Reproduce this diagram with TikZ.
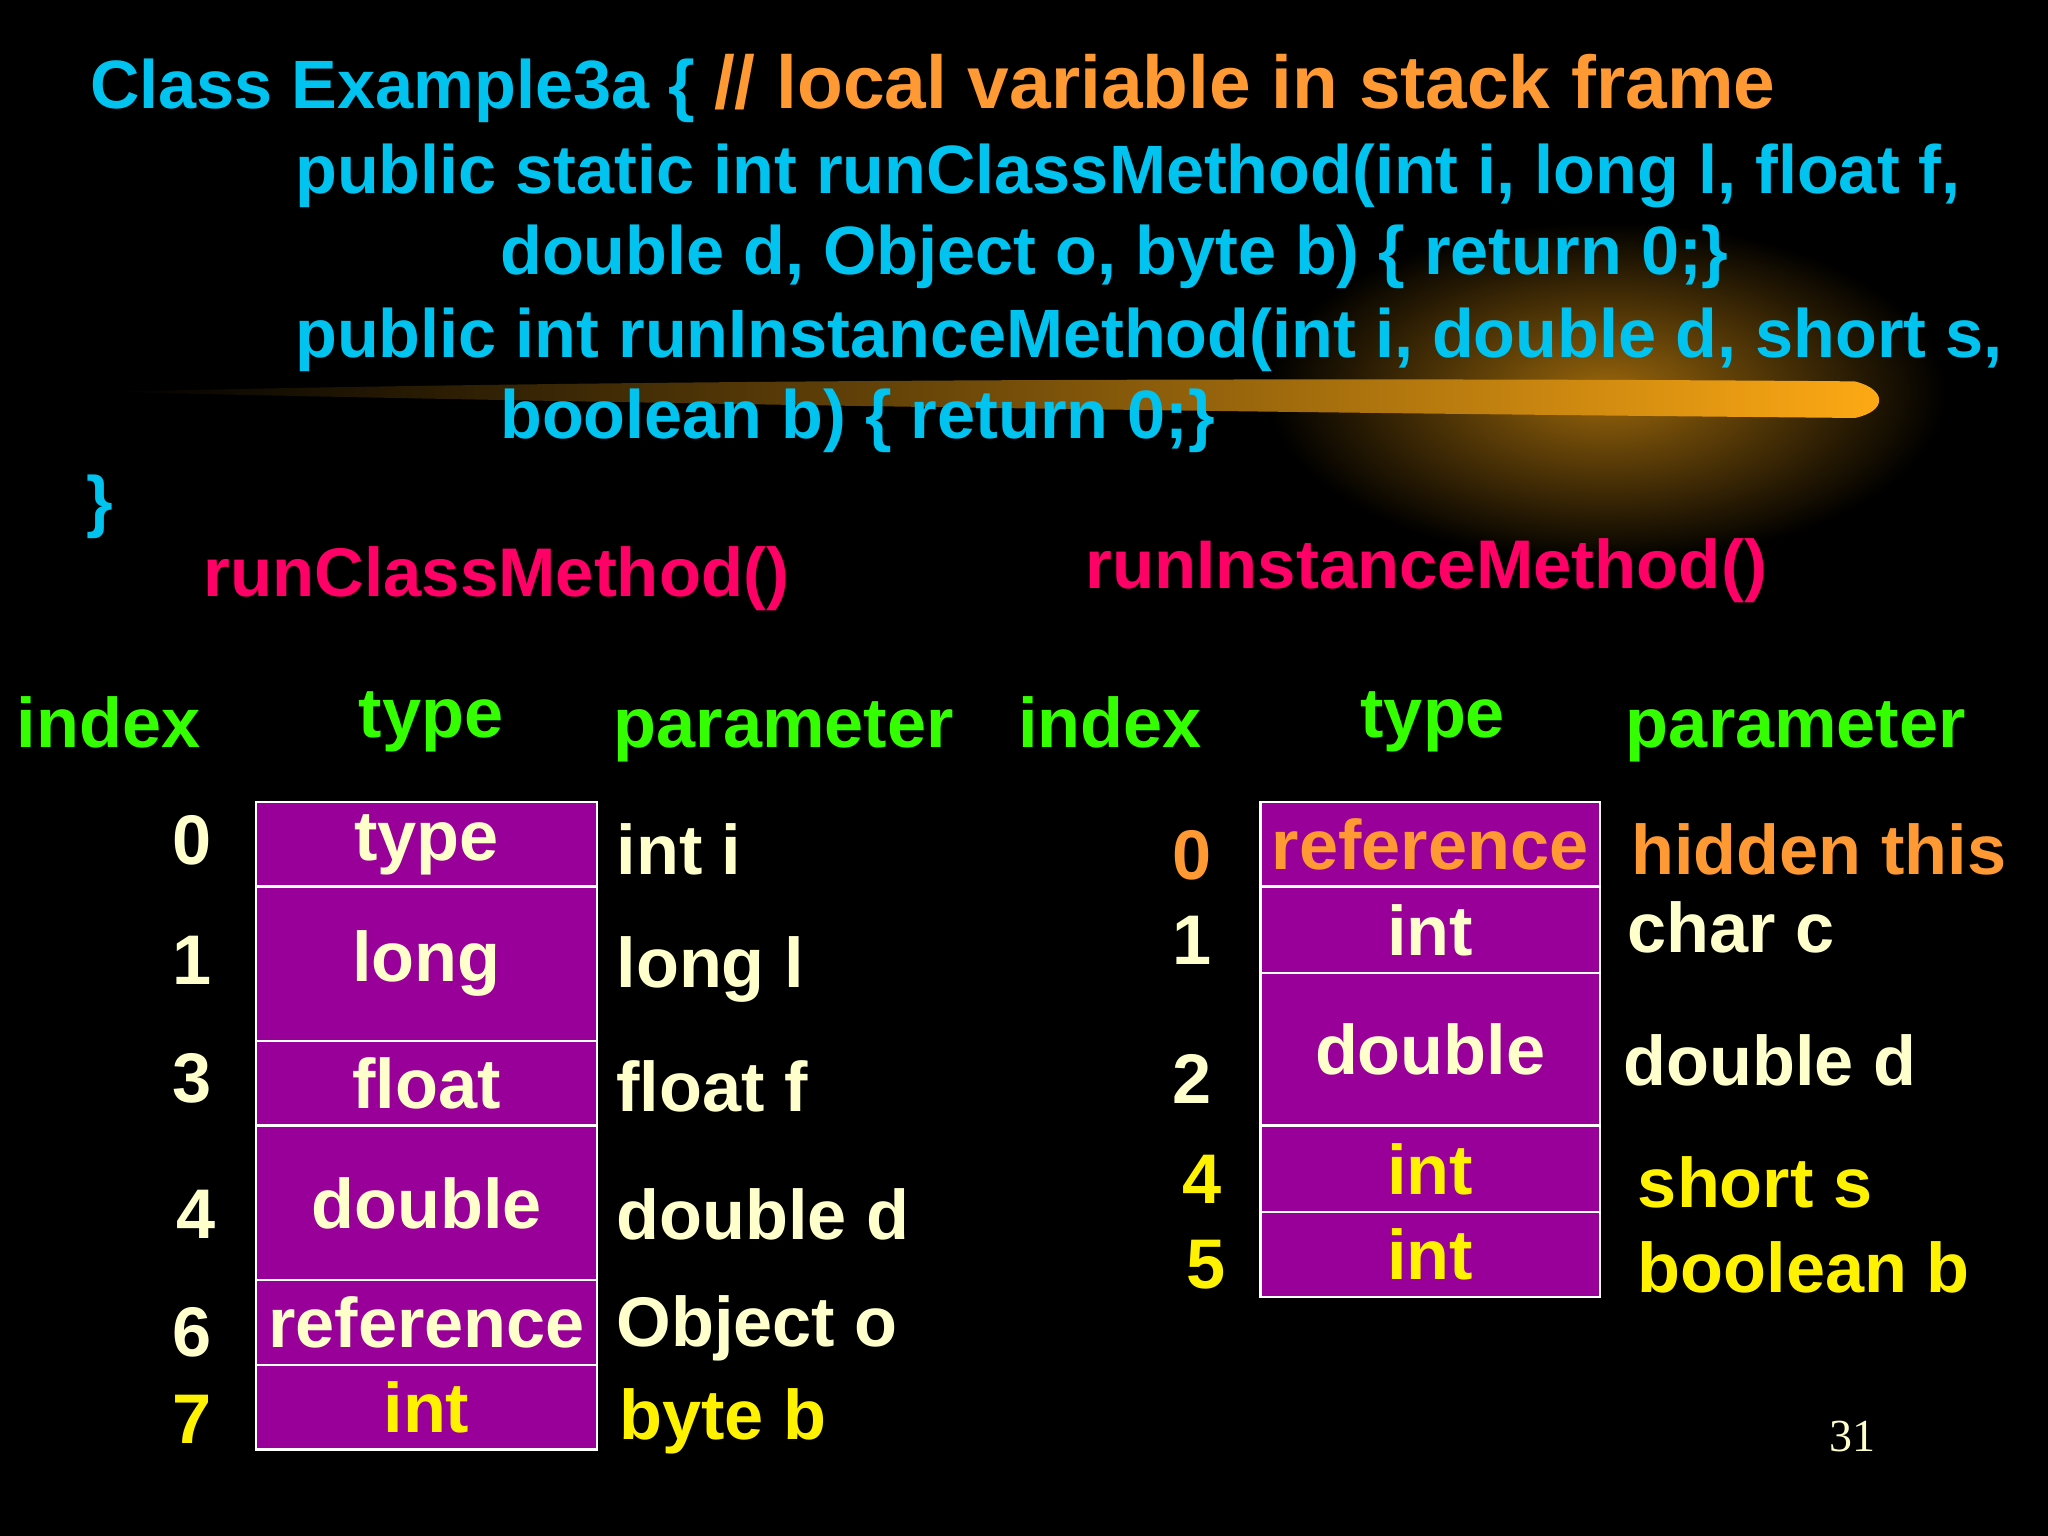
\documentclass[tikz,border=0pt]{standalone}
\usepackage{fontspec}
\setmainfont{Liberation Sans}
\usetikzlibrary{positioning}
\definecolor{codecyan}{RGB}{0,195,240}
\definecolor{cmtorange}{RGB}{255,153,51}
\definecolor{titlered}{RGB}{255,0,102}
\definecolor{hdrgreen}{RGB}{51,255,0}
\definecolor{cream}{RGB}{255,255,204}
\definecolor{slotpurple}{RGB}{153,0,153}
\definecolor{glow}{RGB}{255,170,20}

\begin{document}
\begin{tikzpicture}
[x=0.01cm,y=-0.01cm,
 code/.style={anchor=west,inner sep=0pt,text=codecyan,font=\bfseries\fontsize{14.9}{18}\selectfont},
 title/.style={text=titlered,font=\bfseries\fontsize{15}{18}\selectfont},
 hdr/.style={text=hdrgreen,font=\bfseries\fontsize{15.3}{19}\selectfont},
 idx/.style={text=cream,font=\bfseries\fontsize{15.3}{19}\selectfont},
 param/.style={anchor=west,inner sep=0pt,text=cream,font=\bfseries\fontsize{15.3}{19}\selectfont},
 slot/.style={draw=white,fill=slotpurple,text=cream,font=\bfseries\fontsize{15.3}{19}\selectfont},
 semithick]
\fill[black] (0,0) rectangle (1568,1176);
\useasboundingbox (0,0) rectangle (1568,1176);

% comet glow
\shade[inner color=glow!60!black,outer color=black] (1230,300) ellipse (260 and 130);
\shade[left color=black,right color=glow,middle color=glow!45!black]
  (80,300) .. controls (600,288) and (1200,290) .. (1420,292)
  .. controls (1445,298) and (1445,315) .. (1420,320)
  .. controls (1200,318) and (600,312) .. (80,300);

% code
\node[code] (c1) at (68,68) {Class Example3a \{ \textcolor{cmtorange}{\fontsize{16.3}{20}\selectfont // local variable in stack frame}};
\node[code] (c2) at (225,135) {public static int runClassMethod(int i, long l, float f,};
\node[code] (c3) at (382,197) {double d, Object o, byte b) \{ return 0;\}};
\node[code] (c4) at (225,260) {public int runInstanceMethod(int i, double d, short s,};
\node[code] (c5) at (382,322) {boolean b) \{ return 0;\}};
\node[code] (c6) at (65,388) {\}};

\node[title] (t1) at (380,443) {runClassMethod()};
\node[title] (t2) at (1092,437) {runInstanceMethod()};

% headers
\node[hdr] (h1) at (83,553) {index};
\node[hdr] (h2) at (330,553) {type};
\node[hdr] (h3) at (600,560) {parameter};
\node[hdr] (h4) at (850,553) {index};
\node[hdr] (h5) at (1097,553) {type};
\node[hdr] (h6) at (1375,560) {parameter};

% left frame
\foreach \name/\ya/\yb/\txt in {la/614/679/type, lb/679/797/long, lc/797/862/float,
    ld/862/980/double, le/980/1045/reference, lf/1045/1110/{\textcolor{yellow}{int}}}
  \node[slot,minimum width=2.61cm,minimum height={(\yb-\ya)*0.01cm},inner sep=0pt]
    (\name) at (326.5,{(\ya+\yb)/2}) {\txt};
\foreach \y/\i in {643/0, 735/1, 826/3, 1020/6}
  \node[idx] at (147,\y) {\i};
\node[idx] at (150,930) {4};
\node[idx,text=yellow] at (147,1087) {7};
\foreach \y/\p in {650/int i, 742/long l, 832/float f, 930/double d, 1017/Object o}
  \node[param] at (471,\y) {\p};
\node[param,text=yellow] at (473,1088) {byte b};

% right frame
\foreach \name/\ya/\yb/\txt in {ra/614/679/{\textcolor{cmtorange}{reference}}, rb/679/745/int,
    rc/745/862/double, rd/862/928/{\textcolor{yellow}{int}}, re/928/993/{\textcolor{yellow}{int}}}
  \node[slot,minimum width=2.6cm,minimum height={(\yb-\ya)*0.01cm},inner sep=0pt]
    (\name) at (1095,{(\ya+\yb)/2}) {\txt};
\node[idx,text=cmtorange] at (913,655) {0};
\node[idx] at (913,720) {1};
\node[idx] at (913,826) {2};
\node[idx,text=yellow] at (920,903) {4};
\node[idx,text=yellow] at (923,968) {5};
\node[param,text=cmtorange] at (1248,650) {hidden this};
\node[param] at (1245,710) {char c};
\node[param] at (1242,812) {double d};
\node[param,text=yellow] at (1253,905) {short s};
\node[param,text=yellow] at (1253,970) {boolean b};

\node[text=cream,font=\fontspec{Liberation Serif}\fontsize{10}{12}\selectfont] (pg) at (1418,1100) {31};
\end{tikzpicture}
\end{document}
